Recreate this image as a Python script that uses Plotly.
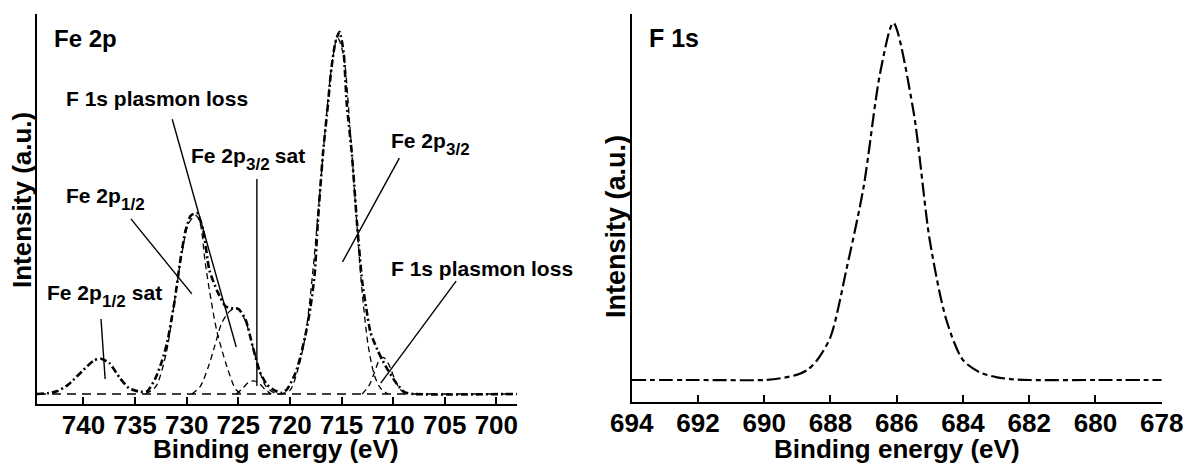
import plotly.graph_objects as go

# ---------------- data: Fe 2p (left panel) ----------------
fe_env_x = [744.5, 743.5, 742.5, 741.5, 741.0, 740.0, 739.0, 738.3, 737.5, 736.5, 735.6, 734.5,
            733.8, 733.0, 732.4, 731.9, 731.2, 730.6, 730.1, 729.6, 729.0, 728.4, 727.8, 727.0,
            726.2, 725.5, 725.0, 724.3, 723.6, 722.9, 722.2, 721.5, 720.8, 720.3, 719.5, 719.0,
            718.4, 718.0, 717.6, 717.3, 716.8, 716.3, 716.0, 715.6, 715.2, 714.8, 714.5, 714.0,
            713.5, 713.0, 712.6, 712.2, 711.5, 710.7, 709.7, 708.9, 708.0, 698.0]
fe_env_y = [0.0, 0.002, 0.008, 0.025, 0.038, 0.066, 0.092, 0.097, 0.085, 0.045, 0.016, 0.006,
            0.008, 0.045, 0.09, 0.14, 0.25, 0.37, 0.45, 0.49, 0.497, 0.45, 0.34, 0.28,
            0.24, 0.235, 0.234, 0.205, 0.13, 0.06, 0.025, 0.01, 0.003, 0.012, 0.055, 0.10,
            0.175, 0.24, 0.33, 0.47, 0.66, 0.80, 0.89, 0.965, 0.995, 0.94, 0.80, 0.66,
            0.47, 0.31, 0.235, 0.17, 0.12, 0.075, 0.03, 0.005, 0.0, 0.0]

c_2p12_x = [734.0, 733.0, 732.0, 731.2, 730.5, 729.8, 729.1, 728.7, 728.2, 727.8, 727.1, 726.1, 725.2, 724.5]
c_2p12_y = [0.0, 0.02, 0.11, 0.25, 0.38, 0.47, 0.49, 0.47, 0.36, 0.286, 0.176, 0.075, 0.011, 0.0]

c_plas1_x = [729.5, 728.7, 727.9, 727.3, 726.6, 725.8, 725.1, 724.3, 723.6, 722.9, 722.3, 721.5, 721.0]
c_plas1_y = [0.0, 0.02, 0.075, 0.13, 0.195, 0.228, 0.236, 0.20, 0.13, 0.06, 0.02, 0.003, 0.0]

c_sat32_x = [725.2, 724.6, 724.0, 723.5, 723.0, 722.4, 721.8]
c_sat32_y = [0.0, 0.015, 0.032, 0.036, 0.030, 0.012, 0.0]

c_2p32_x = [721.0, 720.0, 719.2, 718.5, 717.8, 717.2, 716.6, 716.0, 715.4, 714.8, 714.2, 713.6, 713.0, 712.4, 711.8, 711.2, 710.5]
c_2p32_y = [0.0, 0.01, 0.07, 0.16, 0.33, 0.52, 0.72, 0.89, 0.98, 0.93, 0.74, 0.50, 0.28, 0.13, 0.05, 0.015, 0.0]

c_plas2_x = [713.0, 712.3, 711.8, 711.3, 710.9, 710.4, 709.9, 709.4, 708.8]
c_plas2_y = [0.0, 0.025, 0.06, 0.095, 0.10, 0.08, 0.045, 0.015, 0.0]

fe_base_x = [744.5, 698.0]
fe_base_y = [0.0, 0.0]

fe_ticks = [740, 735, 730, 725, 720, 715, 710, 705, 700]

# ---------------- data: F 1s (right panel) ----------------
f1s_x = [694.0, 692.0, 690.0, 689.5, 689.0, 688.7, 688.4, 688.0, 687.5, 687.0, 686.5, 686.1,
         685.5, 685.0, 684.5, 684.0, 683.5, 683.0, 682.5, 682.0, 680.0, 678.0]
f1s_y = [0.0, 0.0, 0.0, 0.005, 0.015, 0.028, 0.056, 0.12, 0.317, 0.54, 0.86, 1.0,
         0.756, 0.39, 0.168, 0.056, 0.022, 0.008, 0.002, 0.0, 0.0, 0.0]

f1s_ticks = [694, 692, 690, 688, 686, 684, 682, 680, 678]

# ---------------- labels ----------------
# each label: list of (text, is_subscript), anchor x, y (left-panel data coords)
fe_labels = [
    ([("F 1s plasmon loss", False)], 741.8, 0.813),
    ([("Fe 2p", False), ("1/2", True)], 741.8, 0.544),
    ([("Fe 2p", False), ("3/2", True), (" sat", False)], 729.7, 0.655),
    ([("Fe 2p", False), ("3/2", True)], 710.3, 0.696),
    ([("F 1s plasmon loss", False)], 710.3, 0.346),
    ([("Fe 2p", False), ("1/2", True), (" sat", False)], 743.6, 0.279),
]
fe_leaders = [
    (731.4, 0.755, 725.2, 0.129),
    (735.4, 0.481, 729.5, 0.275),
    (723.2, 0.591, 723.2, 0.022),
    (709.4, 0.648, 714.9, 0.363),
    (703.9, 0.310, 711.2, 0.030),
    (738.3, 0.206, 737.9, 0.041),
]

FONT = "Arial, Liberation Sans, sans-serif"
W, H = 1188, 464
LBL, SUBSZ = 21, 17

# Arial Bold advance widths (em/1000) for text-run placement
AW = {"F": 611, "e": 556, " ": 278, "2": 556, "p": 611, "1": 556, "/": 278, "3": 556,
      "s": 556, "a": 556, "t": 333, "l": 278, "m": 889, "o": 611, "n": 611}


def text_width(s, size):
    return sum(AW.get(c, 556) for c in s) * size / 1000.0


fig = go.Figure()

env_style = dict(color="black", width=2.6, dash="7px,3px,2px,3px")
comp_style = dict(color="black", width=1.3, dash="6px,4px")

fig.add_trace(go.Scatter(x=fe_base_x, y=fe_base_y, mode="lines",
                         line=dict(color="black", width=1.5, dash="9px,6px"),
                         xaxis="x", yaxis="y", showlegend=False))
for cx, cy in [(c_2p12_x, c_2p12_y), (c_plas1_x, c_plas1_y), (c_sat32_x, c_sat32_y),
               (c_2p32_x, c_2p32_y), (c_plas2_x, c_plas2_y)]:
    fig.add_trace(go.Scatter(x=cx, y=cy, mode="lines", line=dict(shape="spline", smoothing=0.8, **comp_style),
                             xaxis="x", yaxis="y", showlegend=False))
fig.add_trace(go.Scatter(x=fe_env_x, y=fe_env_y, mode="lines",
                         line=dict(shape="spline", smoothing=0.6, **env_style),
                         xaxis="x", yaxis="y", showlegend=False))

fig.add_trace(go.Scatter(x=f1s_x, y=f1s_y, mode="lines",
                         line=dict(shape="spline", smoothing=0.8, color="black", width=2.2,
                                   dash="14px,4px,5px,4px"),
                         xaxis="x2", yaxis="y2", showlegend=False))

tickfont = dict(family=FONT, size=26, color="black", weight="bold")

common_x = dict(showline=True, linewidth=2, linecolor="black", mirror=False, showgrid=False,
                zeroline=False, ticks="inside", ticklen=7, tickwidth=1.5, tickcolor="black",
                tickfont=tickfont, automargin=False, ticklabelstandoff=-3)
common_y = dict(showline=True, linewidth=2, linecolor="black", showgrid=False, zeroline=False,
                showticklabels=False, ticks="", automargin=False)

fig.update_layout(
    width=W, height=H,
    margin=dict(l=0, r=0, t=0, b=0, autoexpand=False),
    paper_bgcolor="white", plot_bgcolor="white",
    xaxis=dict(domain=[37 / W, 517 / W], range=[744.5, 698.0], tickvals=fe_ticks,
               anchor="y", **common_x),
    yaxis=dict(domain=[1 - 404 / H, 1 - 14 / H], range=[-0.0275, 1.044], anchor="x", **common_y),
    xaxis2=dict(domain=[631.7 / W, 1161.7 / W], range=[694, 678], tickvals=f1s_ticks,
                anchor="y2", **common_x),
    yaxis2=dict(domain=[1 - 402 / H, 1 - 14 / H], range=[-0.0616, 1.025], anchor="x2", **common_y),
)

annotations = []
for parts, x, y in fe_labels:
    shift = 0.0
    for txt, is_sub in parts:
        size = SUBSZ if is_sub else LBL
        annotations.append(dict(text=txt, x=x, y=y, xref="x", yref="y", xanchor="left", yanchor="middle",
                                xshift=shift, yshift=-9 if is_sub else 0, showarrow=False,
                                borderpad=0, font=dict(family=FONT, size=size, color="black", weight="bold")))
        shift += text_width(txt, size)

annotations.append(dict(text="Fe 2p", x=743.07, y=0.978, xref="x", yref="y", xanchor="left",
                        yanchor="middle", showarrow=False,
                        font=dict(family=FONT, size=24, color="black", weight="bold")))
annotations.append(dict(text="F 1s", x=693.54, y=0.958, xref="x2", yref="y2", xanchor="left",
                        yanchor="middle", showarrow=False,
                        font=dict(family=FONT, size=25, color="black", weight="bold")))
for xc, yc, sz in [(22, 200, 26), (616, 227, 27)]:
    annotations.append(dict(text="Intensity (a.u.)", x=xc / W, y=1 - yc / H, xref="paper", yref="paper",
                            textangle=-90, showarrow=False, xanchor="center", yanchor="middle",
                            font=dict(family=FONT, size=sz, color="black", weight="bold")))
for xc, yc in [(276, 449), (897, 449)]:
    annotations.append(dict(text="Binding energy (eV)", x=xc / W, y=1 - yc / H, xref="paper", yref="paper",
                            showarrow=False, xanchor="center", yanchor="middle",
                            font=dict(family=FONT, size=26, color="black", weight="bold")))
fig.update_layout(annotations=annotations)

shapes = []
for x0, y0, x1, y1 in fe_leaders:
    shapes.append(dict(type="line", xref="x", yref="y", x0=x0, y0=y0, x1=x1, y1=y1,
                       line=dict(color="black", width=1.4)))
fig.update_layout(shapes=shapes)

fig.write_html("out.html")
